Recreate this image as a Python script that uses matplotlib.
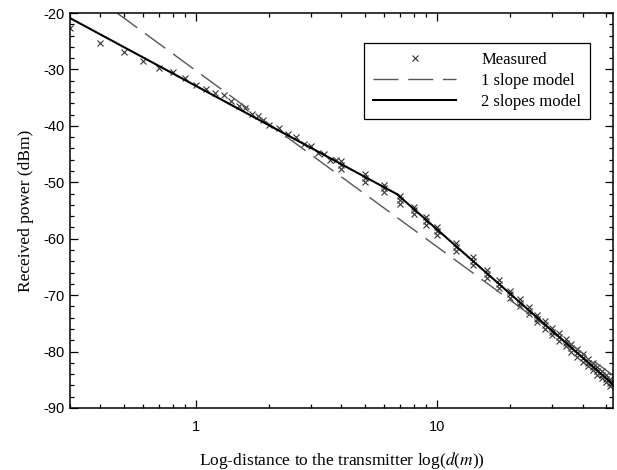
import matplotlib
matplotlib.use("Agg")
import matplotlib.pyplot as plt
from matplotlib.ticker import LogLocator, NullFormatter, FixedLocator, FixedFormatter, MultipleLocator

plt.rcParams['mathtext.fontset'] = 'stix'
plt.rcParams['axes.unicode_minus'] = False

# Measured points (distance in m, received power in dBm)
measured_d = [0.3, 0.4, 0.5, 0.6, 0.7, 0.8, 0.9, 1.0, 1.1, 1.2, 1.3,
              1.4, 1.5, 1.6, 1.7, 1.8, 1.9, 2.0, 2.2, 2.4, 2.6, 2.8, 3.0, 3.2, 3.4, 3.6, 3.8,
              4, 4, 4, 5, 5, 5, 6, 6, 6, 7, 7, 7, 8, 8, 8, 9, 9, 9, 10, 10, 10,
              12, 12, 12, 14, 14, 14, 16, 16, 16, 18, 18, 18, 20, 20, 20,
              22, 22, 22, 24, 24, 24, 26, 26, 26, 28, 28, 28, 30, 30, 30,
              32, 32, 32, 34, 34, 34, 36, 36, 36, 38, 38, 38, 40, 40, 40,
              42, 42, 42, 44, 44, 44, 46, 46, 46, 48, 48, 48, 50, 50, 50, 52, 52, 52]
measured_p = [-22.6, -25.3, -26.9, -28.5, -29.7, -30.4, -31.6, -32.7, -33.4, -34.1, -34.6,
              -35.6, -36.4, -36.8, -37.9, -38.3, -39.0, -39.9, -40.3, -41.5, -42.0, -43.3, -43.5, -44.8, -44.9, -46.1, -46.0,
              -46.3, -47.0, -47.6, -48.6, -49.3, -50.0, -50.4, -51.1, -51.8, -52.4, -53.1, -53.8,
              -54.3, -55.0, -55.7, -56.2, -56.9, -57.5, -57.9, -58.6, -59.3,
              -60.7, -61.4, -62.1, -63.3, -64.0, -64.6, -65.6, -66.3, -66.9, -67.4, -68.1, -68.8,
              -69.2, -69.8, -70.5, -70.7, -71.4, -72.0, -72.1, -72.8, -73.4, -73.5, -74.2, -74.8,
              -74.6, -75.3, -76.0, -75.8, -76.5, -77.1, -76.8, -77.5, -78.1, -77.8, -78.5, -79.1,
              -78.7, -79.4, -80.0, -79.6, -80.3, -80.9, -80.5, -81.2, -81.8, -81.3, -82.0, -82.6,
              -82.0, -82.7, -83.3, -82.8, -83.5, -84.1, -83.4, -84.1, -84.7, -84.1, -84.8, -85.4,
              -84.8, -85.5, -86.1]

# 1 slope model vertices
one_slope_d = [0.47, 53.5]
one_slope_p = [-20.0, -84.2]

# 2 slopes model vertices (breakpoint ~6.8 m)
two_slope_d = [0.3, 6.8, 53.5]
two_slope_p = [-20.9, -52.1, -85.8]

x_ticks = [1, 10]
x_labels = ["1", "10"]
y_ticks = [-90, -80, -70, -60, -50, -40, -30, -20]

fig = plt.figure(figsize=(6.17, 4.70), dpi=100)
ax = fig.add_axes([0.1135, 0.132, 0.88, 0.8403])

ax.plot(measured_d, measured_p, linestyle='none', marker='x', markersize=4,
        markeredgewidth=0.8, color='#333333', label='Measured')
ax.plot(one_slope_d, one_slope_p, linestyle=(0, (18, 7)), linewidth=1.0,
        color='#555555', label='1 slope model')
ax.plot(two_slope_d, two_slope_p, linestyle='-', linewidth=1.5,
        color='black', label='2 slopes model')

ax.set_xscale('log')
ax.set_xlim(0.3, 53.5)
ax.set_ylim(-90, -20)

ax.xaxis.set_major_locator(FixedLocator(x_ticks))
ax.xaxis.set_major_formatter(FixedFormatter(x_labels))
ax.xaxis.set_minor_locator(LogLocator(base=10, subs=range(2, 10)))
ax.xaxis.set_minor_formatter(NullFormatter())
ax.set_yticks(y_ticks)
ax.yaxis.set_minor_locator(MultipleLocator(2))

for s in ax.spines.values():
    s.set_linewidth(1.1)

ax.tick_params(which='both', direction='in', top=True, right=True, width=0.9)
ax.tick_params(which='major', length=6)
ax.tick_params(which='minor', length=3)
ax.tick_params(axis='y', which='major', labelsize=10.5, pad=4)
ax.tick_params(axis='x', which='major', labelsize=10.5, pad=9)
for lab in ax.get_xticklabels() + ax.get_yticklabels():
    lab.set_family('Liberation Sans')

ax.set_xlabel(r"Log-distance to the transmitter log($d$($m$))",
              family='Liberation Serif', fontsize=12.5, labelpad=11)
ax.set_ylabel("Received power (dBm)", family='Liberation Serif', fontsize=12.5, labelpad=7)

leg = ax.legend(loc='upper left', bbox_to_anchor=(0.541, 0.924), numpoints=1,
                prop={'family': 'Liberation Serif', 'size': 12},
                handlelength=5.0, handletextpad=1.5, labelspacing=0.3,
                borderpad=0.55, borderaxespad=0, fancybox=False, framealpha=1,
                edgecolor='black')
leg.get_frame().set_linewidth(0.9)

fig.savefig("out.png", dpi=100)
